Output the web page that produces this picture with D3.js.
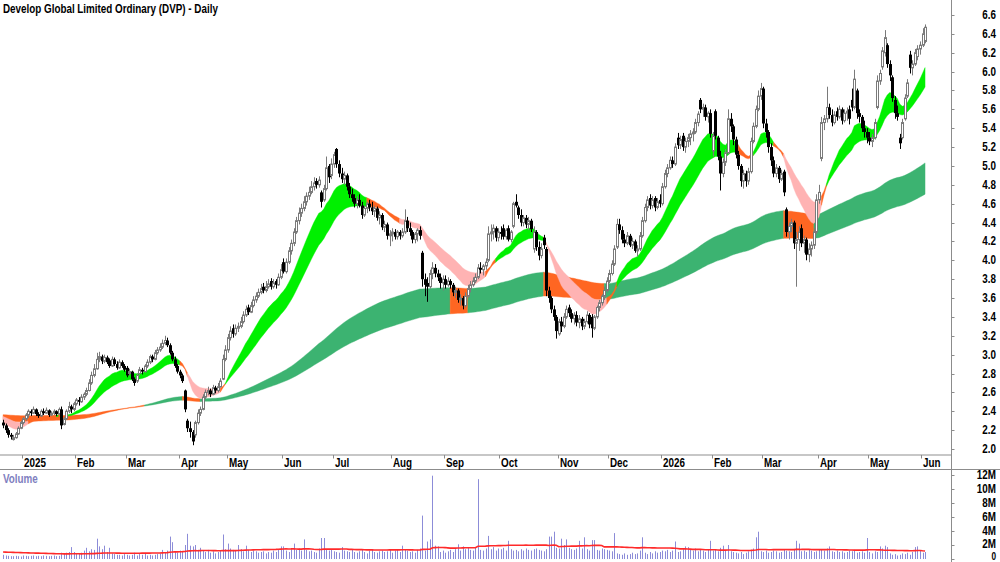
<!DOCTYPE html>
<html>
<head>
<meta charset="utf-8">
<script src="https://cdn.jsdelivr.net/npm/d3@7/dist/d3.min.js"></script>
<style>
  body { margin: 0; background: #fff; }
  svg { display: block; }
</style>
</head>
<body>
<div id="chart"></div>
<script>
// daily bars, 18 Dec 2024 .. 2 Jun 2026 (ASX trading days)
const opens = [
  2.28,2.25,2.20,2.15,2.10,2.12,2.16,2.22,2.28,2.32, 2.36,2.40,2.38,2.42,2.37,2.35,2.40,2.38,2.41,2.36,
  2.38,2.40,2.37,2.42,2.26,2.32,2.40,2.45,2.42,2.48, 2.52,2.50,2.55,2.58,2.62,2.70,2.78,2.85,2.95,2.98,
  2.93,2.97,2.94,2.88,2.95,2.90,2.86,2.92,2.88,2.86, 2.80,2.82,2.74,2.72,2.80,2.84,2.82,2.88,2.92,2.98,
  2.95,3.02,3.05,3.08,3.12,3.15,3.10,3.02,2.95,2.88, 2.82,2.78,2.62,2.30,2.22,2.18,2.15,2.28,2.38,2.42,
  2.55,2.60,2.62,2.58,2.65,2.62,2.66,2.74,2.95,3.05, 3.18,3.28,3.22,3.28,3.30,3.35,3.42,3.50,3.45,3.52,
  3.58,3.62,3.66,3.72,3.68,3.72,3.78,3.72,3.78,3.74, 3.82,3.98,3.88,3.98,4.10,4.18,4.30,4.42,4.50,4.55,
  4.62,4.68,4.72,4.78,4.84,4.80,4.72,4.64,4.76,5.00, 4.90,5.02,5.18,5.02,4.92,4.86,4.90,4.78,4.70,4.66,
  4.60,4.64,4.58,4.48,4.55,4.60,4.56,4.52,4.55,4.45, 4.48,4.35,4.38,4.26,4.28,4.30,4.25,4.30,4.26,4.30,
  4.42,4.34,4.30,4.22,4.28,4.32,4.08,3.80,3.76,3.72, 3.86,3.92,3.86,3.82,3.76,3.80,3.74,3.78,3.74,3.66,
  3.68,3.58,3.60,3.52,3.62,3.70,3.74,3.78,3.82,3.92, 3.90,3.94,4.00,4.28,4.30,4.34,4.24,4.30,4.34,4.25,
  4.34,4.22,4.36,4.62,4.56,4.48,4.40,4.45,4.38,4.42, 4.12,4.30,4.14,4.05,4.24,4.12,3.68,3.60,3.48,3.40,
  3.22,3.35,3.30,3.40,3.50,3.44,3.38,3.42,3.34,3.38, 3.30,3.35,3.42,3.40,3.28,3.40,3.50,3.55,3.62,3.68,
  3.78,3.86,3.96,4.14,4.38,4.32,4.22,4.18,4.26,4.16, 4.20,4.10,4.12,4.26,4.42,4.56,4.66,4.58,4.66,4.56,
  4.64,4.60,4.78,4.92,4.98,5.06,5.02,5.30,5.22,5.32, 5.20,5.26,5.30,5.34,5.36,5.46,5.70,5.60,5.62,5.52,
  5.56,5.16,5.58,5.30,5.10,4.92,5.04,5.14,5.50,5.42, 5.28,5.12,5.00,4.84,4.92,4.84,4.94,5.26,5.42,5.60,
  5.74,5.82,5.45,5.36,5.20,5.06,4.92,4.98,4.86,4.94, 4.54,4.30,4.36,4.40,4.18,4.22,4.34,4.18,4.22,4.06,
  4.12,4.16,4.30,4.64,5.08,5.46,5.50,5.62,5.54,5.46, 5.58,5.52,5.60,5.48,5.56,5.60,5.70,5.62,5.80,5.56,
  5.52,5.40,5.36,5.30,5.26,5.30,5.62,5.90,6.05,6.20, 6.28,6.08,5.94,5.70,5.56,5.30,5.30,5.50,5.74,6.18,
  6.04,6.08,6.16,6.24,6.28,6.32
];
const highs = [
  2.31,2.27,2.22,2.17,2.15,2.18,2.24,2.30,2.34,2.38, 2.42,2.42,2.45,2.43,2.39,2.42,2.43,2.44,2.42,2.40,
  2.42,2.41,2.44,2.45,2.34,2.42,2.50,2.47,2.50,2.54, 2.55,2.58,2.60,2.65,2.74,2.82,2.90,3.02,3.03,3.00,
  3.00,2.99,2.96,2.98,2.97,2.93,2.95,2.94,2.90,2.88, 2.85,2.83,2.76,2.80,2.87,2.86,2.90,2.95,3.00,3.00,
  3.05,3.08,3.12,3.16,3.20,3.18,3.12,3.04,2.98,2.90, 2.84,2.80,2.63,2.32,2.29,2.20,2.30,2.42,2.45,2.58,
  2.63,2.66,2.64,2.68,2.67,2.70,2.75,3.00,3.10,3.22, 3.30,3.32,3.32,3.34,3.40,3.46,3.52,3.53,3.56,3.62,
  3.66,3.70,3.75,3.76,3.78,3.80,3.81,3.80,3.80,3.86, 3.96,4.02,4.02,4.14,4.22,4.34,4.46,4.56,4.60,4.68,
  4.72,4.78,4.84,4.88,4.87,4.89,4.74,4.80,5.10,5.02, 5.08,5.15,5.19,5.06,4.98,4.94,4.92,4.82,4.76,4.70,
  4.68,4.70,4.62,4.58,4.62,4.64,4.62,4.58,4.57,4.52, 4.50,4.42,4.40,4.32,4.34,4.33,4.32,4.32,4.34,4.54,
  4.46,4.40,4.32,4.30,4.34,4.36,4.10,3.86,3.82,3.90, 3.98,3.96,3.90,3.86,3.84,3.84,3.82,3.80,3.76,3.72,
  3.70,3.64,3.62,3.66,3.74,3.78,3.82,3.86,3.96,3.98, 3.96,4.02,4.36,4.38,4.38,4.36,4.34,4.36,4.38,4.34,
  4.37,4.32,4.62,4.70,4.58,4.54,4.48,4.48,4.46,4.44, 4.36,4.32,4.20,4.18,4.27,4.14,3.72,3.62,3.52,3.42,
  3.38,3.40,3.44,3.52,3.53,3.48,3.45,3.46,3.42,3.40, 3.38,3.46,3.44,3.43,3.42,3.52,3.58,3.64,3.72,3.82,
  3.90,4.00,4.16,4.44,4.44,4.36,4.28,4.30,4.28,4.24, 4.22,4.16,4.30,4.46,4.60,4.68,4.70,4.68,4.68,4.66,
  4.70,4.82,4.96,5.02,5.10,5.10,5.24,5.35,5.32,5.35, 5.30,5.34,5.38,5.40,5.50,5.58,5.72,5.66,5.65,5.58,
  5.60,5.36,5.60,5.32,5.16,5.08,5.18,5.60,5.56,5.44, 5.31,5.16,5.02,4.96,4.95,4.98,5.30,5.46,5.64,5.80,
  5.88,5.84,5.50,5.38,5.24,5.10,5.02,5.00,4.96,4.96, 4.56,4.40,4.44,4.42,4.30,4.36,4.38,4.26,4.24,4.18,
  4.20,4.34,4.70,4.80,5.52,5.54,5.84,5.66,5.60,5.58, 5.62,5.64,5.62,5.60,5.62,5.64,5.82,6.02,5.82,5.60,
  5.54,5.48,5.40,5.36,5.34,5.50,5.96,6.02,6.26,6.44, 6.30,6.12,5.96,5.74,5.64,5.34,5.50,5.76,5.92,6.22,
  6.12,6.24,6.28,6.32,6.46,6.50
];
const lows = [
  2.22,2.17,2.12,2.10,2.09,2.11,2.15,2.21,2.26,2.30, 2.33,2.35,2.37,2.35,2.33,2.34,2.36,2.37,2.34,2.35,
  2.36,2.35,2.36,2.21,2.25,2.31,2.38,2.38,2.40,2.46, 2.46,2.49,2.52,2.56,2.61,2.68,2.76,2.84,2.92,2.90,
  2.91,2.90,2.86,2.87,2.88,2.84,2.85,2.86,2.82,2.76, 2.78,2.72,2.67,2.70,2.78,2.79,2.81,2.86,2.90,2.92,
  2.94,3.00,3.03,3.06,3.10,3.08,3.00,2.93,2.86,2.80, 2.75,2.70,2.39,2.18,2.12,2.04,2.12,2.26,2.35,2.41,
  2.53,2.57,2.55,2.57,2.59,2.60,2.65,2.73,2.93,3.02, 3.15,3.18,3.20,3.24,3.28,3.33,3.40,3.42,3.44,3.50,
  3.55,3.60,3.64,3.65,3.66,3.70,3.69,3.70,3.70,3.73, 3.80,3.86,3.86,3.96,4.06,4.15,4.28,4.38,4.46,4.52,
  4.58,4.64,4.70,4.74,4.76,4.77,4.56,4.62,4.74,4.82, 4.86,4.98,4.98,4.88,4.82,4.80,4.74,4.66,4.62,4.56,
  4.55,4.56,4.44,4.46,4.50,4.52,4.48,4.46,4.42,4.38, 4.32,4.30,4.22,4.15,4.20,4.22,4.22,4.22,4.24,4.28,
  4.30,4.26,4.18,4.18,4.20,4.22,3.72,3.62,3.56,3.70, 3.80,3.82,3.78,3.70,3.68,3.70,3.72,3.70,3.62,3.60,
  3.55,3.52,3.48,3.50,3.60,3.66,3.72,3.76,3.80,3.86, 3.84,3.90,3.98,4.20,4.22,4.20,4.20,4.22,4.22,4.22,
  4.20,4.19,4.34,4.56,4.44,4.36,4.36,4.34,4.32,4.30, 4.08,4.10,4.00,4.02,4.12,3.62,3.55,3.44,3.36,3.17,
  3.20,3.24,3.28,3.38,3.40,3.34,3.32,3.30,3.28,3.26, 3.27,3.33,3.28,3.18,3.26,3.38,3.46,3.52,3.58,3.66,
  3.76,3.84,3.94,4.12,4.28,4.18,4.14,4.16,4.14,4.12, 4.08,4.04,4.10,4.24,4.40,4.52,4.54,4.55,4.52,4.54,
  4.56,4.58,4.76,4.88,4.96,4.98,5.00,5.18,5.18,5.16, 5.14,5.20,5.22,5.26,5.34,5.42,5.56,5.52,5.48,5.46,
  5.30,5.10,5.28,5.06,4.74,4.88,5.00,5.12,5.36,5.22, 5.08,4.96,4.78,4.76,4.78,4.80,4.92,5.24,5.40,5.58,
  5.70,5.40,5.30,5.14,5.00,4.88,4.88,4.82,4.84,4.68, 4.25,4.22,4.30,4.12,3.72,4.10,4.14,4.08,4.00,3.98,
  4.04,4.12,4.28,4.60,5.05,5.38,5.46,5.50,5.42,5.44, 5.48,5.50,5.44,5.46,5.48,5.44,5.58,5.60,5.50,5.46,
  5.36,5.30,5.24,5.22,5.20,5.28,5.60,5.86,6.02,6.16, 6.04,5.90,5.68,5.50,5.48,5.18,5.28,5.48,5.72,5.98,
  5.96,6.06,6.12,6.18,6.26,6.30
];
const closes = [
  2.25,2.20,2.15,2.13,2.12,2.16,2.22,2.28,2.32,2.36, 2.40,2.38,2.42,2.37,2.35,2.40,2.38,2.41,2.36,2.38,
  2.40,2.37,2.42,2.25,2.32,2.40,2.45,2.42,2.48,2.52, 2.50,2.55,2.58,2.62,2.70,2.78,2.85,2.95,2.98,2.93,
  2.97,2.92,2.88,2.95,2.90,2.86,2.92,2.88,2.84,2.78, 2.82,2.74,2.70,2.78,2.84,2.82,2.88,2.92,2.98,2.95,
  3.02,3.05,3.08,3.12,3.15,3.10,3.02,2.95,2.88,2.82, 2.78,2.72,2.42,2.22,2.18,2.08,2.28,2.38,2.42,2.55,
  2.60,2.62,2.58,2.65,2.62,2.66,2.72,2.95,3.05,3.18, 3.25,3.22,3.28,3.30,3.35,3.42,3.48,3.45,3.52,3.58,
  3.62,3.66,3.70,3.68,3.72,3.75,3.72,3.76,3.74,3.82, 3.90,3.88,3.98,4.10,4.18,4.30,4.42,4.50,4.55,4.62,
  4.68,4.72,4.78,4.82,4.80,4.85,4.62,4.76,4.98,4.88, 5.02,5.12,5.02,4.92,4.86,4.90,4.78,4.70,4.66,4.60,
  4.64,4.58,4.48,4.55,4.60,4.56,4.52,4.55,4.45,4.48, 4.35,4.38,4.26,4.28,4.30,4.25,4.30,4.26,4.30,4.42,
  4.34,4.30,4.22,4.28,4.32,4.26,3.80,3.74,3.72,3.86, 3.92,3.86,3.82,3.76,3.80,3.74,3.78,3.74,3.66,3.68,
  3.58,3.60,3.52,3.62,3.70,3.74,3.78,3.82,3.92,3.90, 3.94,3.98,4.28,4.30,4.34,4.24,4.30,4.28,4.25,4.32,
  4.22,4.30,4.60,4.58,4.48,4.40,4.45,4.38,4.42,4.33, 4.30,4.14,4.05,4.12,4.16,3.68,3.60,3.48,3.40,3.25,
  3.35,3.30,3.40,3.48,3.44,3.38,3.42,3.34,3.38,3.30, 3.35,3.42,3.32,3.28,3.40,3.50,3.55,3.62,3.68,3.78,
  3.86,3.96,4.12,4.38,4.32,4.22,4.18,4.26,4.16,4.20, 4.10,4.12,4.26,4.42,4.56,4.64,4.58,4.64,4.56,4.62,
  4.60,4.78,4.92,4.98,5.06,5.02,5.20,5.22,5.28,5.20, 5.26,5.30,5.34,5.36,5.46,5.55,5.60,5.62,5.52,5.56,
  5.34,5.32,5.32,5.10,4.92,5.04,5.14,5.50,5.42,5.28, 5.12,5.00,4.84,4.92,4.84,4.94,5.26,5.42,5.60,5.74,
  5.82,5.45,5.36,5.20,5.06,4.92,4.98,4.86,4.92,4.72, 4.30,4.36,4.40,4.18,4.22,4.30,4.18,4.22,4.06,4.12,
  4.16,4.30,4.64,4.72,5.46,5.50,5.62,5.54,5.46,5.54, 5.52,5.60,5.48,5.56,5.58,5.50,5.62,5.92,5.56,5.52,
  5.40,5.36,5.30,5.26,5.30,5.46,5.90,5.98,6.22,6.36, 6.08,5.96,5.72,5.56,5.52,5.24,5.46,5.72,5.88,6.04,
  6.08,6.20,6.24,6.28,6.40,6.47
];
// volume in millions of shares
const volumes = [
  0.6,0.5,0.45,0.4,0.4,0.45,0.4,0.35,0.5,0.45, 0.4,0.45,0.5,0.4,0.45,0.4,0.5,0.45,0.4,0.45,
  0.5,0.4,0.45,0.9,0.8,0.9,1.0,1.7,1.0,0.8, 0.7,0.9,1.2,1.6,1.1,1.4,1.3,2.9,1.8,1.4,
  1.9,1.0,1.6,0.8,0.7,0.6,0.6,0.5,0.7,0.6, 0.5,0.6,0.9,0.5,0.7,0.6,0.8,0.5,0.6,0.5,
  0.6,0.7,0.8,1.3,1.0,1.2,3.2,2.4,1.0,0.9, 1.2,1.0,2.0,3.6,1.9,1.8,2.0,1.3,1.6,1.2,
  1.0,1.3,0.9,1.1,0.8,1.0,1.2,3.5,1.4,2.2, 1.5,1.3,1.2,2.0,1.4,1.1,1.9,1.3,1.0,1.2,
  1.1,0.9,1.0,1.1,0.8,1.0,0.9,1.2,1.0,1.3, 1.8,1.8,1.2,1.0,1.4,2.2,1.3,1.5,1.2,2.8,
  1.3,1.1,1.2,1.0,0.9,1.5,3.0,3.0,1.4,1.2, 1.3,1.1,1.0,0.9,1.7,1.2,1.1,1.0,1.3,1.0,
  0.9,1.1,1.3,1.0,0.8,1.2,1.4,1.0,0.9,1.1, 1.2,1.0,1.1,1.3,0.9,1.2,1.4,1.0,1.9,1.3,
  1.2,1.0,1.1,0.9,1.3,1.5,6.2,1.2,2.5,2.8, 11.9,1.9,1.8,1.0,1.2,0.9,1.1,1.3,1.0,1.4,
  2.1,1.2,1.8,1.4,1.6,1.3,1.2,1.6,11.4,1.3, 1.2,1.5,3.3,1.4,1.7,1.2,1.5,1.4,1.6,1.2,
  2.6,1.4,1.2,1.3,1.1,1.4,1.2,1.5,1.3,1.2, 1.4,1.5,1.3,1.2,1.1,1.4,3.2,3.2,3.9,1.6,
  1.5,2.9,2.0,2.8,1.6,1.4,1.3,1.5,2.6,1.5, 3.1,1.4,1.2,2.7,2.7,1.3,1.2,1.5,1.4,1.3,
  1.2,1.1,3.7,0.8,0.7,0.6,0.8,0.6,0.7,0.9, 0.7,0.8,1.2,3.1,0.9,0.7,1.0,0.8,1.1,0.9,
  1.0,1.2,1.1,1.3,1.0,1.2,2.5,1.0,1.1,1.4, 1.8,1.7,1.3,1.2,1.5,1.1,1.3,1.2,1.0,1.4,
  2.6,1.2,1.3,1.1,1.6,1.9,1.2,2.0,1.1,1.0, 0.9,0.8,1.0,0.7,0.9,1.1,1.3,1.5,3.1,3.9,
  1.1,1.0,1.2,0.9,1.0,1.2,1.1,0.9,1.0,1.3, 1.2,1.1,1.0,1.3,2.6,2.2,1.1,1.2,1.0,1.3,
  1.2,1.0,1.1,1.4,1.3,1.2,1.5,1.8,1.1,1.0, 1.2,1.0,1.1,0.9,1.0,1.2,1.1,1.3,0.9,1.0,
  1.1,0.9,3.0,1.0,0.8,1.1,1.0,1.8,1.5,1.9, 1.7,0.8,0.6,0.7,0.5,0.6,0.8,0.7,0.9,0.6,
  1.0,1.7,1.8,1.2,0.9,1.0
];

const holidays = ['2024-12-25', '2024-12-26', '2025-01-01', '2025-01-27', '2025-04-18', '2025-04-21',
  '2025-04-25', '2025-06-09', '2025-12-25', '2025-12-26', '2026-01-01', '2026-01-26', '2026-04-03', '2026-04-06'];
const priceTicks = d3.range(20, 67, 2).map((v) => v / 10);
const volumeTicks = [0, 2, 4, 6, 8, 10, 12];

// moving average ribbons (short and long groups) and their starting values
const shortPeriods = [15, 17, 19, 22, 25, 29];
const longPeriods = [150, 165, 180, 195, 210, 230];
const shortSeed = [2.27, 2.28, 2.29, 2.31, 2.33, 2.35];
const longSeed = [2.30, 2.313, 2.326, 2.339, 2.352, 2.365];
const volumeAvgPeriod = 50;
const volumeAvgSeed = 1.0;

const title = 'Develop Global Limited Ordinary (DVP) - Daily';

const width = 1000;
const height = 562;
const axisX = 951.5;
const n = closes.length;

// trading dates
const fmt = d3.timeFormat('%Y-%m-%d');
const dates = [];
for (let d = new Date(2024, 11, 18); dates.length < n; d = d3.timeDay.offset(d, 1)) {
  const wd = d.getDay();
  if (wd === 0 || wd === 6 || holidays.includes(fmt(d))) continue;
  dates.push(new Date(d));
}

const svg = d3.select('#chart').append('svg')
  .attr('width', width)
  .attr('height', height);

// scales
const x = d3.scaleBand().domain(d3.range(n)).range([1.8, 1.8 + n * 2.526]);
const cx = (i) => x(i) + x.bandwidth() / 2;
const y = d3.scaleLinear().domain([2.0, 6.6]).range([449, 15]);
const yv = d3.scaleLinear().domain([0, 12]).range([559, 475]);

// ema groups
const emaGroup = (periods, seeds) => periods.map((p, k) => {
  const a = 2 / (p + 1);
  let e = seeds[k];
  return closes.map((c) => { e += a * (c - e); return e; });
});
const shortE = emaGroup(shortPeriods, shortSeed);
const longE = emaGroup(longPeriods, longSeed);
const band = (es) => d3.range(n).map((i) => d3.extent(es, (e) => e[i]));
const shortBand = band(shortE);
const longBand = band(longE);

const order = (es, i) => {
  let up = true;
  let down = true;
  for (let k = 0; k < es.length - 1; k += 1) {
    if (es[k][i] <= es[k + 1][i]) up = false;
    if (es[k][i] >= es[k + 1][i]) down = false;
  }
  if (up) return 'up';
  return down ? 'down' : 'mixed';
};

const GREEN = '#00f000';
const SEA = '#3cb371';
const ORANGE = '#ff6622';
const PINK = '#ffb3b3';

const shortColor = d3.range(n).map((i) => {
  const o = order(shortE, i);
  if (o === 'up') return GREEN;
  return o === 'down' ? PINK : ORANGE;
});
const longColor = d3.range(n).map((i) => (
  order(longE, i) === 'up' && closes[i] >= longBand[i][1] ? SEA : ORANGE));

// plot area
svg.append('clipPath').attr('id', 'plotClip')
  .append('rect').attr('x', 0).attr('y', 0).attr('width', axisX).attr('height', 454);
const plot = svg.append('g').attr('clip-path', 'url(#plotClip)');

const drawRibbon = (bnd, colors) => {
  const area = d3.area()
    .x((i) => cx(i))
    .y0((i) => y(bnd[i][0]))
    .y1((i) => y(bnd[i][1]));
  const g = plot.append('g');
  let start = 0;
  for (let i = 1; i <= n; i += 1) {
    if (i === n || colors[i] !== colors[start]) {
      g.append('path')
        .datum(d3.range(Math.max(start - 1, 0), i))
        .attr('fill', colors[start])
        .attr('stroke', colors[start])
        .attr('stroke-width', 0.4)
        .attr('d', area);
      start = i;
    }
  }
};
drawRibbon(longBand, longColor);
drawRibbon(shortBand, shortColor);

// candles
const candle = plot.append('g').selectAll('g')
  .data(d3.range(n))
  .join('g');
candle.append('line')
  .attr('x1', (i) => Math.round(cx(i)) + 0.5)
  .attr('x2', (i) => Math.round(cx(i)) + 0.5)
  .attr('y1', (i) => y(highs[i]))
  .attr('y2', (i) => y(lows[i]))
  .attr('stroke', (i) => (closes[i] >= opens[i] ? '#7a7a7a' : '#000'))
  .attr('stroke-width', 1);
candle.append('rect')
  .attr('x', (i) => (closes[i] >= opens[i] ? Math.round(cx(i)) - 0.5 : Math.round(cx(i)) - 1))
  .attr('width', (i) => (closes[i] >= opens[i] ? 2 : 3))
  .attr('y', (i) => y(Math.max(opens[i], closes[i])))
  .attr('height', (i) => Math.max(1, Math.abs(y(opens[i]) - y(closes[i]))))
  .attr('fill', (i) => (closes[i] >= opens[i] ? '#fff' : '#000'))
  .attr('stroke', (i) => (closes[i] >= opens[i] ? '#7a7a7a' : 'none'))
  .attr('stroke-width', 1);

// volume
svg.append('g').selectAll('line')
  .data(d3.range(n))
  .join('line')
  .attr('x1', (i) => Math.round(cx(i)) + 0.5)
  .attr('x2', (i) => Math.round(cx(i)) + 0.5)
  .attr('y1', yv(0))
  .attr('y2', (i) => yv(volumes[i]))
  .attr('stroke', '#8c8cd8')
  .attr('stroke-width', 1);

const volAvg = d3.range(n).map((i) => {
  let s = 0;
  for (let k = i - volumeAvgPeriod + 1; k <= i; k += 1) s += k < 0 ? volumeAvgSeed : volumes[k];
  return s / volumeAvgPeriod;
});
svg.append('path')
  .datum(d3.range(n))
  .attr('fill', 'none')
  .attr('stroke', '#ff2a2a')
  .attr('stroke-width', 1.6)
  .attr('d', d3.line().x((i) => cx(i)).y((i) => yv(volAvg[i])));

// narrow bold labels
const label = (txt, px, py, anchor, color, size = 12) => {
  const t = svg.append('text')
    .attr('x', px)
    .attr('y', py)
    .attr('text-anchor', anchor)
    .attr('font-family', '"Liberation Sans", Arial, sans-serif')
    .attr('font-weight', 'bold')
    .attr('font-size', size)
    .attr('fill', color)
    .text(txt);
  const w = t.node().getComputedTextLength();
  t.attr('font-family', '"Liberation Sans Narrow", "Arial Narrow", "Liberation Sans", sans-serif')
    .attr('textLength', w * 0.82)
    .attr('lengthAdjust', 'spacingAndGlyphs');
  return t;
};

// axes frame
svg.append('line').attr('x1', 0).attr('x2', axisX).attr('y1', 455).attr('y2', 455)
  .attr('stroke', '#b4b4b4').attr('stroke-width', 1.5);
svg.append('line').attr('x1', 0).attr('x2', width).attr('y1', 469.5).attr('y2', 469.5)
  .attr('stroke', '#8c8c8c').attr('stroke-width', 1);
svg.append('line').attr('x1', axisX).attr('x2', axisX).attr('y1', 0).attr('y2', height)
  .attr('stroke', '#8c8c8c').attr('stroke-width', 1);

// price axis
priceTicks.forEach((v) => {
  svg.append('line').attr('x1', axisX).attr('x2', axisX + 3)
    .attr('y1', Math.round(y(v)) + 0.5).attr('y2', Math.round(y(v)) + 0.5)
    .attr('stroke', '#8c8c8c');
  label(v.toFixed(1), 996, y(v) + 4, 'end', '#000');
});

// volume axis (the zero label sits on the bottom edge, so it is set a little smaller)
volumeTicks.forEach((v) => {
  svg.append('line').attr('x1', axisX).attr('x2', axisX + 3)
    .attr('y1', Math.round(yv(v)) + 0.5).attr('y2', Math.round(yv(v)) + 0.5)
    .attr('stroke', '#8c8c8c');
  if (v === 0) label('0', 996, 560, 'end', '#000', 10);
  else label(`${v}M`, 996, yv(v) + (v === 2 ? 2.5 : 4), 'end', '#000');
});

// month axis
const monthName = d3.timeFormat('%b');
d3.range(1, n).filter((i) => dates[i].getMonth() !== dates[i - 1].getMonth()).forEach((i) => {
  const tx = Math.round(x(i)) + 0.5;
  svg.append('line').attr('x1', tx).attr('x2', tx).attr('y1', 455).attr('y2', 458.5)
    .attr('stroke', '#8c8c8c');
  const txt = dates[i].getMonth() === 0 ? String(dates[i].getFullYear()) : monthName(dates[i]);
  label(txt, tx + 1.5, 466.5, 'start', '#000');
});

label(title, 3, 12.5, 'start', '#000');
label('Volume', 3, 483, 'start', '#8080c0');
</script>
</body>
</html>
